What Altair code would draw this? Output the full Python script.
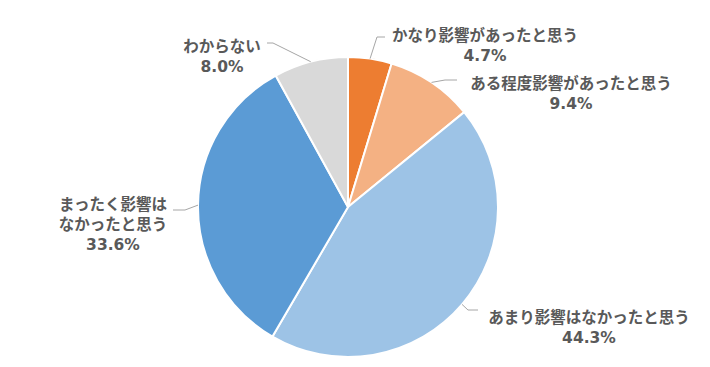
import altair as alt
import pandas as pd

# ---- data ----
labels = ["かなり影響があったと思う", "ある程度影響があったと思う", "あまり影響はなかったと思う",
          "まったく影響は\nなかったと思う", "わからない"]
values = [4.7, 9.4, 44.3, 33.6, 8.0]
colors = ["#ED7D31", "#F4B183", "#9DC3E6", "#5B9BD5", "#D9D9D9"]

# ---- layout (label anchors / leader elbows, chart pixel coords) ----
label_x = [477, 563, 581, 105, 214]
label_y = [28, 76, 310, 197, 39]
elbow_x = [369, 437, 460, 177, 265]
elbow_y = [29, 72, 302, 202, 35]
end_x = [377, 449, 470, 165, 259]

CX, CY, R = 340, 199, 150
W, H = 694, 351

df = pd.DataFrame({
    "idx": list(range(len(labels))),
    "label": labels,
    "value": values,
    "lx": label_x, "ly": label_y,
    "ex": elbow_x, "ey": elbow_y, "hx": end_x,
})

base = alt.Chart(df)

pie = base.mark_arc(outerRadius=R, stroke="white", strokeWidth=2).encode(
    theta=alt.Theta("value:Q", stack=True),
    color=alt.Color("label:N", scale=alt.Scale(domain=labels, range=colors), legend=None),
    order=alt.Order("idx:Q"),
    x=alt.value(CX),
    y=alt.value(CY),
)

lead = base.transform_window(
    cum="sum(value)", sort=[alt.SortField("idx")]
).transform_joinaggregate(
    total="sum(value)"
).transform_calculate(
    mid="(datum.cum - datum.value/2) / datum.total * 2 * PI",
).transform_calculate(
    sx=f"{CX} + {R} * sin(datum.mid)",
    sy=f"{CY} - {R} * cos(datum.mid)",
)

seg1 = lead.mark_rule(color="#A6A6A6", strokeWidth=1).encode(
    x=alt.X("sx:Q", scale=None, axis=None),
    y=alt.Y("sy:Q", scale=None, axis=None),
    x2="ex:Q",
    y2="ey:Q",
)
seg2 = lead.mark_rule(color="#A6A6A6", strokeWidth=1).encode(
    x=alt.X("ex:Q", scale=None, axis=None),
    y=alt.Y("ey:Q", scale=None, axis=None),
    x2="hx:Q",
    y2="ey:Q",
)

text = base.transform_calculate(
    txt="datum.label + '\\n' + format(datum.value, '.1f') + '%'"
).mark_text(
    font="'DejaVu Sans', 'Noto Sans CJK JP'", fontSize=15.5, fontWeight="bold", color="#595959",
    align="center", baseline="middle", lineBreak="\n", lineHeight=20,
).encode(
    x=alt.X("lx:Q", scale=None, axis=None),
    y=alt.Y("ly:Q", scale=None, axis=None),
    text="txt:N",
)

chart = alt.layer(pie, seg1, seg2, text).properties(
    width=W, height=H, padding=0, autosize=alt.AutoSizeParams(type="none"),
    background="white",
).configure_view(stroke=None)

chart.save("out.html", embed_options={"renderer": "svg", "actions": False})
